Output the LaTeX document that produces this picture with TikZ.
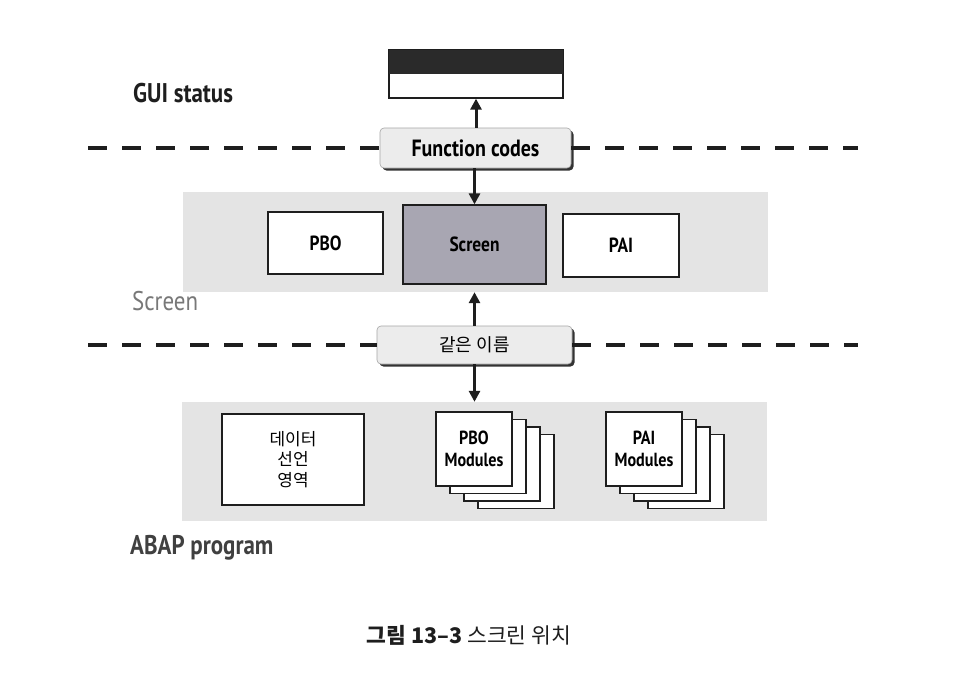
\documentclass[tikz,border=0pt]{standalone}
\usepackage{fontspec}
\usetikzlibrary{arrows.meta,calc,shadows}
\newfontfamily\lab[FakeStretch=0.85]{PT Sans}
\newfontfamily\kr{Noto Sans CJK KR}
\definecolor{bandgray}{RGB}{228,228,228}
\definecolor{lblgray}{RGB}{236,236,236}
\definecolor{scrfill}{RGB}{168,166,178}
\definecolor{darkbar}{RGB}{42,42,42}
\definecolor{labgray}{RGB}{120,120,120}
\definecolor{ink}{RGB}{30,30,30}
\tikzset{
  band/.style={fill=bandgray, draw=none, inner sep=0pt},
  wbox/.style={draw=ink, fill=white, line width=1.3pt, inner sep=0pt, align=center,
    font=\lab\bfseries\fontsize{20.5}{22}\selectfont},
  modbox/.style={wbox, font=\lab\bfseries\fontsize{19}{22}\selectfont},
  lblbox/.style={draw=gray!70, fill=lblgray, line width=0.6pt, rounded corners=4pt, inner sep=0pt,
    drop shadow={shadow xshift=2.5pt, shadow yshift=-2.5pt, opacity=1, fill=black!80}},
  sep/.style={line width=4.5pt, draw=ink, dash pattern=on 19pt off 15pt},
  arr/.style={line width=3pt, draw=ink, -{Triangle[width=11pt,length=11pt]}},
  sheet/.style={draw=ink, fill=white, line width=1.3pt}
}
\begin{document}
\begin{tikzpicture}[x=1pt,y=-1pt]
\useasboundingbox[fill=white] (0,0) rectangle (975,673);

% bands
\node[band, minimum width=585pt, minimum height=100pt] (band1) at (475.5,242) {};
\node[band, minimum width=585pt, minimum height=119pt] (band2) at (474.5,461.5) {};

% GUI status bar
\node[draw=ink, fill=white, line width=1.3pt, minimum width=174pt, minimum height=48pt, inner sep=0pt] (gui) at (476,74) {};
\fill[darkbar] (gui.north west) rectangle (gui.east);
\draw[ink, line width=1.3pt] (gui.north west) rectangle (gui.south east);

% label boxes
\node[lblbox, minimum width=191pt, minimum height=40pt, font=\lab\bfseries\fontsize{23.5}{25}\selectfont] (fc) at (475.5,148) {Function codes};
\node[lblbox, minimum width=195pt, minimum height=38pt, font=\kr\fontsize{18}{20}\selectfont] (same) at (474.5,345) {같은 이름};

% separators
\coordinate (d1l) at (88,148);
\coordinate (d1r) at (858,148);
\coordinate (d2l) at (88,345);
\coordinate (d2r) at (858,345);
\draw[sep] (d1l) -- (fc.west);
\draw[sep] (fc.east) -- (d1r);
\draw[sep] (d2l) -- (same.west);
\draw[sep] (same.east) -- (d2r);

% screen level
\node[wbox, minimum width=115pt, minimum height=62pt] (pbo) at (325.5,243) {PBO};
\node[wbox, fill=scrfill, minimum width=143pt, minimum height=79pt] (scr) at (474.5,244.5) {Screen};
\node[wbox, minimum width=116pt, minimum height=63pt] (pai) at (621,245.5) {PAI};

% program level
\node[wbox, minimum width=142pt, minimum height=91pt, font=\kr\fontsize{17}{20.5}\selectfont] (data) at (293,459.5) {데이터\\선언\\영역};
\foreach \i in {3,2,1} {
  \draw[sheet] (436+14*\i, 412+7.5*\i) rectangle +(76,74);
  \draw[sheet] (606+14*\i, 412+7.5*\i) rectangle +(76,74);
}
\node[modbox, minimum width=76pt, minimum height=74pt] (pbom) at (474,449) {PBO\\Modules};
\node[modbox, minimum width=76pt, minimum height=74pt] (paim) at (644,449) {PAI\\Modules};

% arrows
\draw[arr] (fc.north -| gui.south) -- (gui.south);
\draw[arr] (fc.south -| scr.north) -- (scr.north);
\draw[arr] (same.north) -- (same.north |- band1.south);
\draw[arr] (same.south) -- (same.south |- band2.north);

% labels
\node[anchor=west, font=\lab\bfseries\fontsize{27}{29}\selectfont, text=ink, inner sep=0pt] (lgui) at (133,93) {GUI status};
\node[anchor=west, font=\lab\fontsize{27}{29}\selectfont, text=labgray, inner sep=0pt] (lscr) at (132,301) {Screen};
\node[anchor=west, font=\lab\bfseries\fontsize{27}{29}\selectfont, text=ink!85, inner sep=0pt] (labap) at (130,548) {ABAP program};
\node[font=\kr\fontsize{21.5}{23}\selectfont, text=ink, inner sep=0pt] (cap) at (469,635) {{\bfseries 그림 13–3} 스크린 위치};
\end{tikzpicture}
\end{document}
